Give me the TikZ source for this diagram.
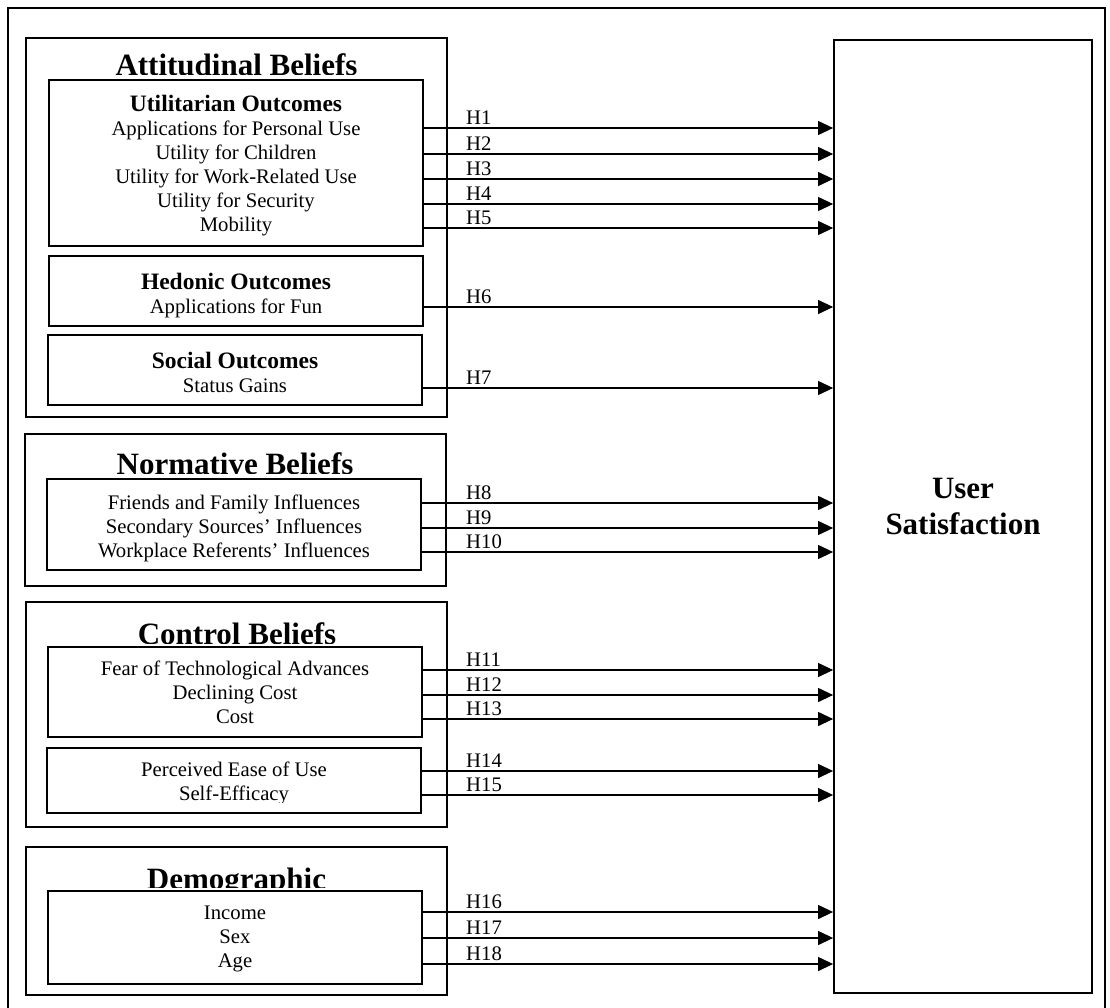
\documentclass[tikz,border=0pt]{standalone}
\usepackage{fontspec}
\setmainfont{Liberation Serif}
\usetikzlibrary{arrows.meta,fit}

\newcommand{\outcome}[1]{{\fontsize{23.5}{24}\selectfont\bfseries #1}}

\begin{document}
\begin{tikzpicture}
    [x=1pt,y=-1pt,
    obox/.style={draw,line width=1.8pt,inner sep=0pt},
    ibox/.style={draw,line width=1.8pt,inner sep=0pt,fill=white},
    gtitle/.style={anchor=base,inner sep=0pt,font=\fontsize{31}{36}\selectfont\bfseries},
    itext/.style={anchor=base,inner sep=0pt,align=center,font=\fontsize{20.7}{24}\selectfont},
    hyp/.style={line width=1.2pt,-{Triangle[length=15pt,width=14pt]}},
    hlabel/.style={anchor=south west,inner sep=0pt,yshift=3.5pt,font=\fontsize{20.7}{24}\selectfont}]
    \useasboundingbox (0,0) rectangle (1110,1008);
    \draw[line width=2.5pt] (8,8) rectangle (1105,1020);
    % belief groups
    \node[obox,fit={(26,38) (447,417)}] (att) {};
    \node[obox,fit={(25,434) (446,586)}] (nor) {};
    \node[obox,fit={(26,602) (447,827)}] (con) {};
    \node[obox,fit={(26,847) (447,995)}] (dem) {};
    \begin{scope}
      \clip (30,40) rectangle (443,74.5);
      \node[gtitle] (attT) at (236.5,75.5) {Attitudinal Beliefs};
    \end{scope}
    \begin{scope}
      \clip (30,436) rectangle (443,473);
      \node[gtitle] (norT) at (235,474) {Normative Beliefs};
    \end{scope}
    \begin{scope}
      \clip (30,604) rectangle (443,643);
      \node[gtitle] (conT) at (237,644) {Control Beliefs};
    \end{scope}
    \begin{scope}
      \clip (30,849) rectangle (443,887);
      \node[gtitle] (demT) at (236.5,889) {Demographic};
    \end{scope}
    % inner boxes (text placed by its last line)
    \node[ibox,fit={(49,80) (423,246)}] (ut) {};
    \node[ibox,fit={(49,256) (423,326)}] (hed) {};
    \node[ibox,fit={(48,335) (422,405)}] (soc) {};
    \node[ibox,fit={(47,479) (421,570)}] (nin) {};
    \node[ibox,fit={(48,647) (422,737)}] (cin) {};
    \node[ibox,fit={(47,748) (421,813)}] (eou) {};
    \node[ibox,fit={(48,891) (422,984)}] (din) {};
    \node[itext] (utT) at (236,232) {\outcome{Utilitarian Outcomes}\\Applications for Personal Use\\Utility for Children\\Utility for Work-Related Use\\Utility for Security\\Mobility};
    \node[itext] (hedT) at (236,313) {\outcome{Hedonic Outcomes}\\Applications for Fun};
    \node[itext] (socT) at (235,392) {\outcome{Social Outcomes}\\Status Gains};
    \node[itext] (ninT) at (234,557) {Friends and Family Influences\\Secondary Sources’ Influences\\Workplace Referents’ Influences};
    \node[itext] (cinT) at (235,723) {Fear of Technological Advances\\Declining Cost\\Cost};
    \begin{scope}
      \clip (50,750) rectangle (419,802);
      \node[itext] (eouT) at (234,800) {Perceived Ease of Use\\Self-Efficacy};
    \end{scope}
    \node[itext] (dinT) at (235,967) {Income\\Sex\\Age};
    % outcome
    \node[ibox,fit={(834,40) (1092,993)},align=center,
      font=\fontsize{31}{36}\selectfont\bfseries] (us) {User\\Satisfaction};
    % hypotheses
    \foreach \y/\h/\src in {128/1/ut,154/2/ut,179/3/ut,204/4/ut,228/5/ut,
      307/6/hed,388/7/soc,503/8/nin,528/9/nin,552/10/nin,670/11/cin,
      695/12/cin,719/13/cin,771/14/eou,795/15/eou,912/16/din,938/17/din,
      964/18/din}
      {\draw[hyp] (\src.east |- 0,\y) -- (us.west |- 0,\y);
       \node[hlabel] (h\h) at (466,\y) {H\h};}
\end{tikzpicture}
\end{document}
